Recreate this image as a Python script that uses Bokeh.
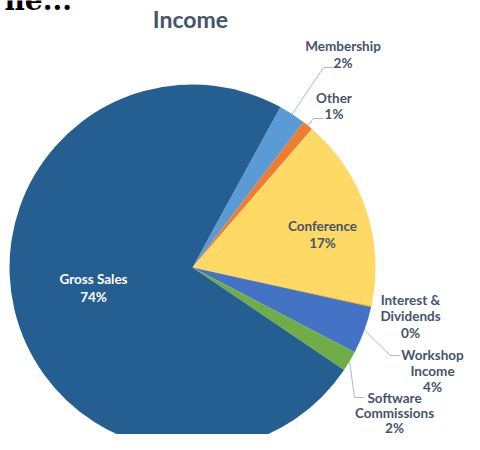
import math
from bokeh.plotting import figure
from bokeh.models import Range1d, ColumnDataSource
from bokeh.core.properties import value
from bokeh.embed import file_html
from bokeh.resources import INLINE

# ---- data ----
categories = ["Membership", "Other", "Conference", "Interest & Dividends",
              "Workshop Income", "Software Commissions", "Gross Sales"]
values = [2.4, 0.95, 17.0, 0.15, 4.2, 1.8, 73.5]
colors = ["#5B9BD5", "#ED7D31", "#FFD966", "#FFC000", "#4472C4", "#70AD47", "#255E91"]
title_text = "Income"
heading_fragment = "ne..."

# ---- layout / style ----
W, H = 464, 434
TEXT_COL = "#44546A"
LEADER_COL = "#ADBACB"
FONT = "Lato"

def X(sx):
    return sx

def Y(sy):
    return H - sy

cx, cy, R = X(192), Y(267), 183
start_deg = 28.7  # first slice angle (clockwise from 12 o'clock)

wrap = {"Interest & Dividends": ["Interest &", "Dividends"],
        "Workshop Income": ["Workshop", "Income"],
        "Software Commissions": ["Software", "Commissions"]}
# (center x, center y, line spacing)
label_center = {"Gross Sales": (93, 287.5, 17.5), "Conference": (322, 234, 17.5),
                "Membership": (342.5, 54, 16.5), "Other": (333.5, 105.5, 16.5),
                "Interest & Dividends": (410, 315.5, 16.5),
                "Workshop Income": (432, 370.5, 16),
                "Software Commissions": (394, 412, 15)}
label_color = {"Gross Sales": "white"}
leader_end = {"Membership": (333, 67), "Other": (323, 118),
              "Workshop Income": (400, 355), "Software Commissions": (364, 397)}

p = figure(width=W, height=H, output_backend="svg", toolbar_location=None,
           x_range=Range1d(0, W), y_range=Range1d(0, H),
           x_axis_type=None, y_axis_type=None, min_border=0)
p.outline_line_color = None
p.background_fill_color = "white"

total = sum(values)
starts, ends, mids = [], [], []
acc = start_deg
for v in values:
    d = v / total * 360.0
    starts.append(acc)
    ends.append(acc + d)
    mids.append(acc + d / 2)
    acc += d

src = ColumnDataSource(dict(
    start=[math.radians(90 - a) for a in starts],
    end=[math.radians(90 - b) for b in ends],
    color=colors, cat=categories))
p.wedge(x=cx, y=cy, radius=R, start_angle="start", end_angle="end",
        direction="clock", fill_color="color", line_color=None, source=src)

# leader lines
for cat, m in zip(categories, mids):
    if cat in leader_end:
        t = math.radians(m)
        x0 = cx + R * math.sin(t)
        y0 = cy + R * math.cos(t)
        ex, ey = leader_end[cat]
        p.line([x0, X(ex - 10), X(ex)], [y0, Y(ey), Y(ey)],
               line_color=LEADER_COL, line_width=1)

# data labels
lx, ly, lt, lc = [], [], [], []
for cat, v in zip(categories, values):
    lines = wrap.get(cat, [cat]) + [f"{int(v / total * 100 + 0.5)}%"]
    sx, sy, lh = label_center[cat]
    n = len(lines)
    for i, s in enumerate(lines):
        lx.append(X(sx))
        ly.append(Y(sy + (i - (n - 1) / 2) * lh))
        lt.append(s)
        lc.append(label_color.get(cat, TEXT_COL))
p.text(x=lx, y=ly, text=lt, text_color=lc, text_align="center",
       text_baseline="middle", text_font=value(FONT),
       text_font_style="bold", text_font_size="13.5px")

# title
p.text(x=[X(190)], y=[Y(18)], text=[title_text], text_color=TEXT_COL,
       text_align="center", text_baseline="middle", text_font=value(FONT),
       text_font_style="bold", text_font_size="23px")

# cropped heading fragment at top-left (cut off at the top, as in the source)
p.text(x=[X(4)], y=[Y(0)], text=[heading_fragment], text_color="black",
       text_align="left", text_baseline="alphabetic",
       text_font=value("DejaVu Serif"), text_font_style="bold",
       text_font_size="28px")

open("out.html", "w").write(file_html(p, INLINE))
